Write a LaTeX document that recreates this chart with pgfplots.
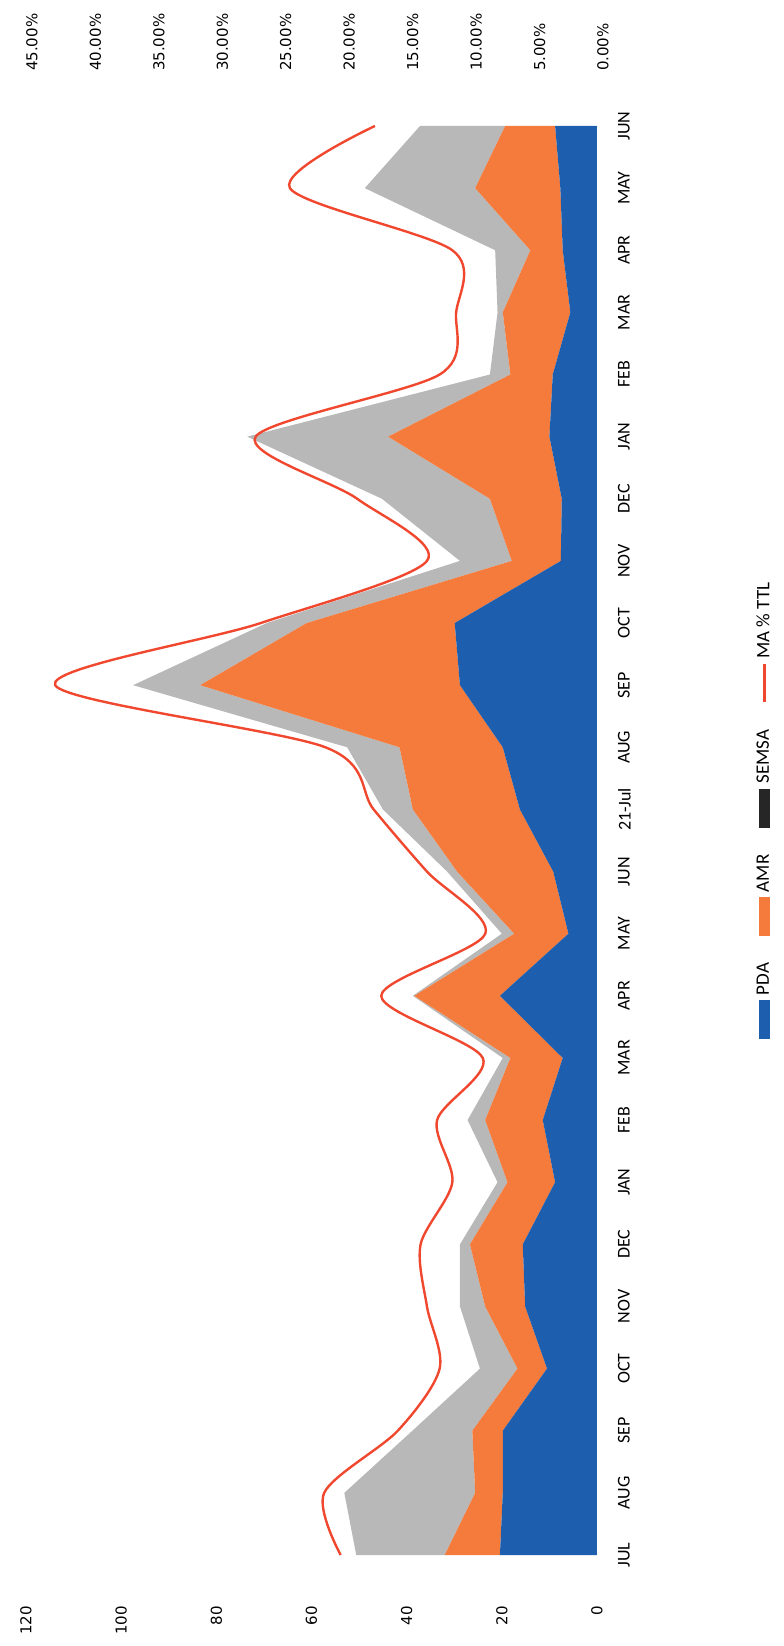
\documentclass[border=0pt]{standalone}
\usepackage{pgfplots}
\pgfplotsset{compat=1.18}
\usepackage{pgfplotstable}
\usepackage{fontspec}
\setmainfont{Carlito}
\newfontfamily\numfont{DejaVu Sans}
\definecolor{pdacol}{HTML}{1D5EAE}
\definecolor{amrcol}{HTML}{F47B3B}
\definecolor{semsacol}{HTML}{B8B8B8}
\definecolor{macol}{HTML}{F0482F}

\pgfplotstableread{
i z pda amr semsa ma
0 0 20.4 11.6 18.6 20.2
1 0 19.8 5.8 27.5 21.5
2 0 19.8 6.4 12.6 15.7
3 0 10.5 6.2 7.9 12.4
4 0 15.1 8.4 5.3 13.4
5 0 15.6 11.1 2.1 13.9
6 0 8.8 10.0 2.1 11.4
7 0 11.4 12.1 3.7 12.6
8 0 7.2 11.0 1.6 9.0
9 0 20.4 18.0 0.3 17.0
10 0 6.0 11.4 2.6 8.8
11 0 9.2 20.2 2.1 13.4
12 0 16.2 22.5 6.3 17.6
13 0 19.8 21.7 11.0 21.4
14 0 28.8 54.6 14.1 42.7
15 0 29.9 31.1 8.4 26.5
16 0 7.6 10.3 10.9 13.4
17 0 7.4 15.1 22.7 18.9
18 0 10.0 33.9 29.6 26.9
19 0 9.3 8.9 4.3 12.4
20 0 5.6 14.2 1.1 11.1
21 0 7.2 6.8 7.4 11.4
22 0 7.7 17.9 23.2 24.2
23 0 8.8 10.5 17.9 17.5
}\datatable

\newcommand\legfont{\fontsize{9.5}{11}\selectfont}

\begin{document}
\begin{tikzpicture}
\useasboundingbox (0,0) rectangle (391.5pt,823pt);
\begin{axis}[
  at={(13pt,45.5pt)}, anchor=south west,
  width=285.5pt, height=714.5pt, scale only axis,
  x dir=reverse,
  xmin=0, xmax=120,
  ymin=0, ymax=23,
  stack plots=x,
  axis line style={draw=none},
  major tick length=0pt,
  xtick={0,20,...,120},
  xticklabels={0,20,40,60,80,100,120},
  xticklabel style={rotate=90, anchor=east, font=\numfont\fontsize{7.5}{9}\selectfont},
  xticklabel shift=22pt,
  ytick={0,...,23},
  yticklabels={JUL,AUG,SEP,OCT,NOV,DEC,JAN,FEB,MAR,APR,MAY,JUN,21-Jul,AUG,SEP,OCT,NOV,DEC,JAN,FEB,MAR,APR,MAY,JUN},
  yticklabel pos=right,
  yticklabel style={rotate=90, anchor=north, font=\fontsize{9}{10}\selectfont},
  yticklabel shift=7pt,
  clip=false,
  legend columns=1,
  legend style={at={(1.30,0.519)}, anchor=center, draw=none, fill=none,
    row sep=11pt, column sep=0pt, inner sep=0pt},
]
\addplot[draw=none, forget plot] table[x=z, y=i] {\datatable};
\addplot[fill=pdacol, draw=none, forget plot] table[x=pda, y=i] {\datatable} \closedcycle;
\addplot[fill=amrcol, draw=none, forget plot] table[x=amr, y=i] {\datatable} \closedcycle;
\addplot[fill=semsacol, draw=none, forget plot] table[x=semsa, y=i] {\datatable} \closedcycle;
\addlegendimage{legend image code/.code={
  \draw[macol, line width=1.3pt] (2.6pt,0pt) -- (2.6pt,19pt);
  \node[rotate=90, anchor=west, inner sep=0pt, font=\legfont, text=black] at (2.6pt,21.5pt) {MA \% TTL};}}
\addlegendentry{}
\addlegendimage{legend image code/.code={
  \fill[black!85] (0pt,0pt) rectangle (5.2pt,19pt);
  \node[rotate=90, anchor=west, inner sep=0pt, font=\legfont, text=black] at (2.6pt,21.5pt) {SEMSA};}}
\addlegendentry{}
\addlegendimage{legend image code/.code={
  \fill[amrcol] (0pt,0pt) rectangle (5.2pt,19pt);
  \node[rotate=90, anchor=west, inner sep=0pt, font=\legfont, text=black] at (2.6pt,21.5pt) {AMR};}}
\addlegendentry{}
\addlegendimage{legend image code/.code={
  \fill[pdacol] (0pt,0pt) rectangle (5.2pt,19pt);
  \node[rotate=90, anchor=west, inner sep=0pt, font=\legfont, text=black] at (2.6pt,21.5pt) {PDA};}}
\addlegendentry{}
\end{axis}
\begin{axis}[
  at={(13pt,45.5pt)}, anchor=south west,
  width=285.5pt, height=714.5pt, scale only axis,
  x dir=reverse,
  xmin=0, xmax=45,
  ymin=0, ymax=23,
  axis line style={draw=none},
  major tick length=0pt,
  ytick=\empty,
  xtick={0,5,...,45},
  xticklabels={0.00\%,5.00\%,10.00\%,15.00\%,20.00\%,25.00\%,30.00\%,35.00\%,40.00\%,45.00\%},
  xticklabel pos=upper,
  xticklabel style={xshift=3pt, rotate=90, anchor=west, font=\numfont\fontsize{7.5}{9}\selectfont},
  xticklabel shift=24pt,
  clip=false,
]
\addplot[macol, line width=1.2pt, smooth, tension=0.5] table[x=ma, y=i] {\datatable};
\end{axis}
\end{tikzpicture}
\end{document}
